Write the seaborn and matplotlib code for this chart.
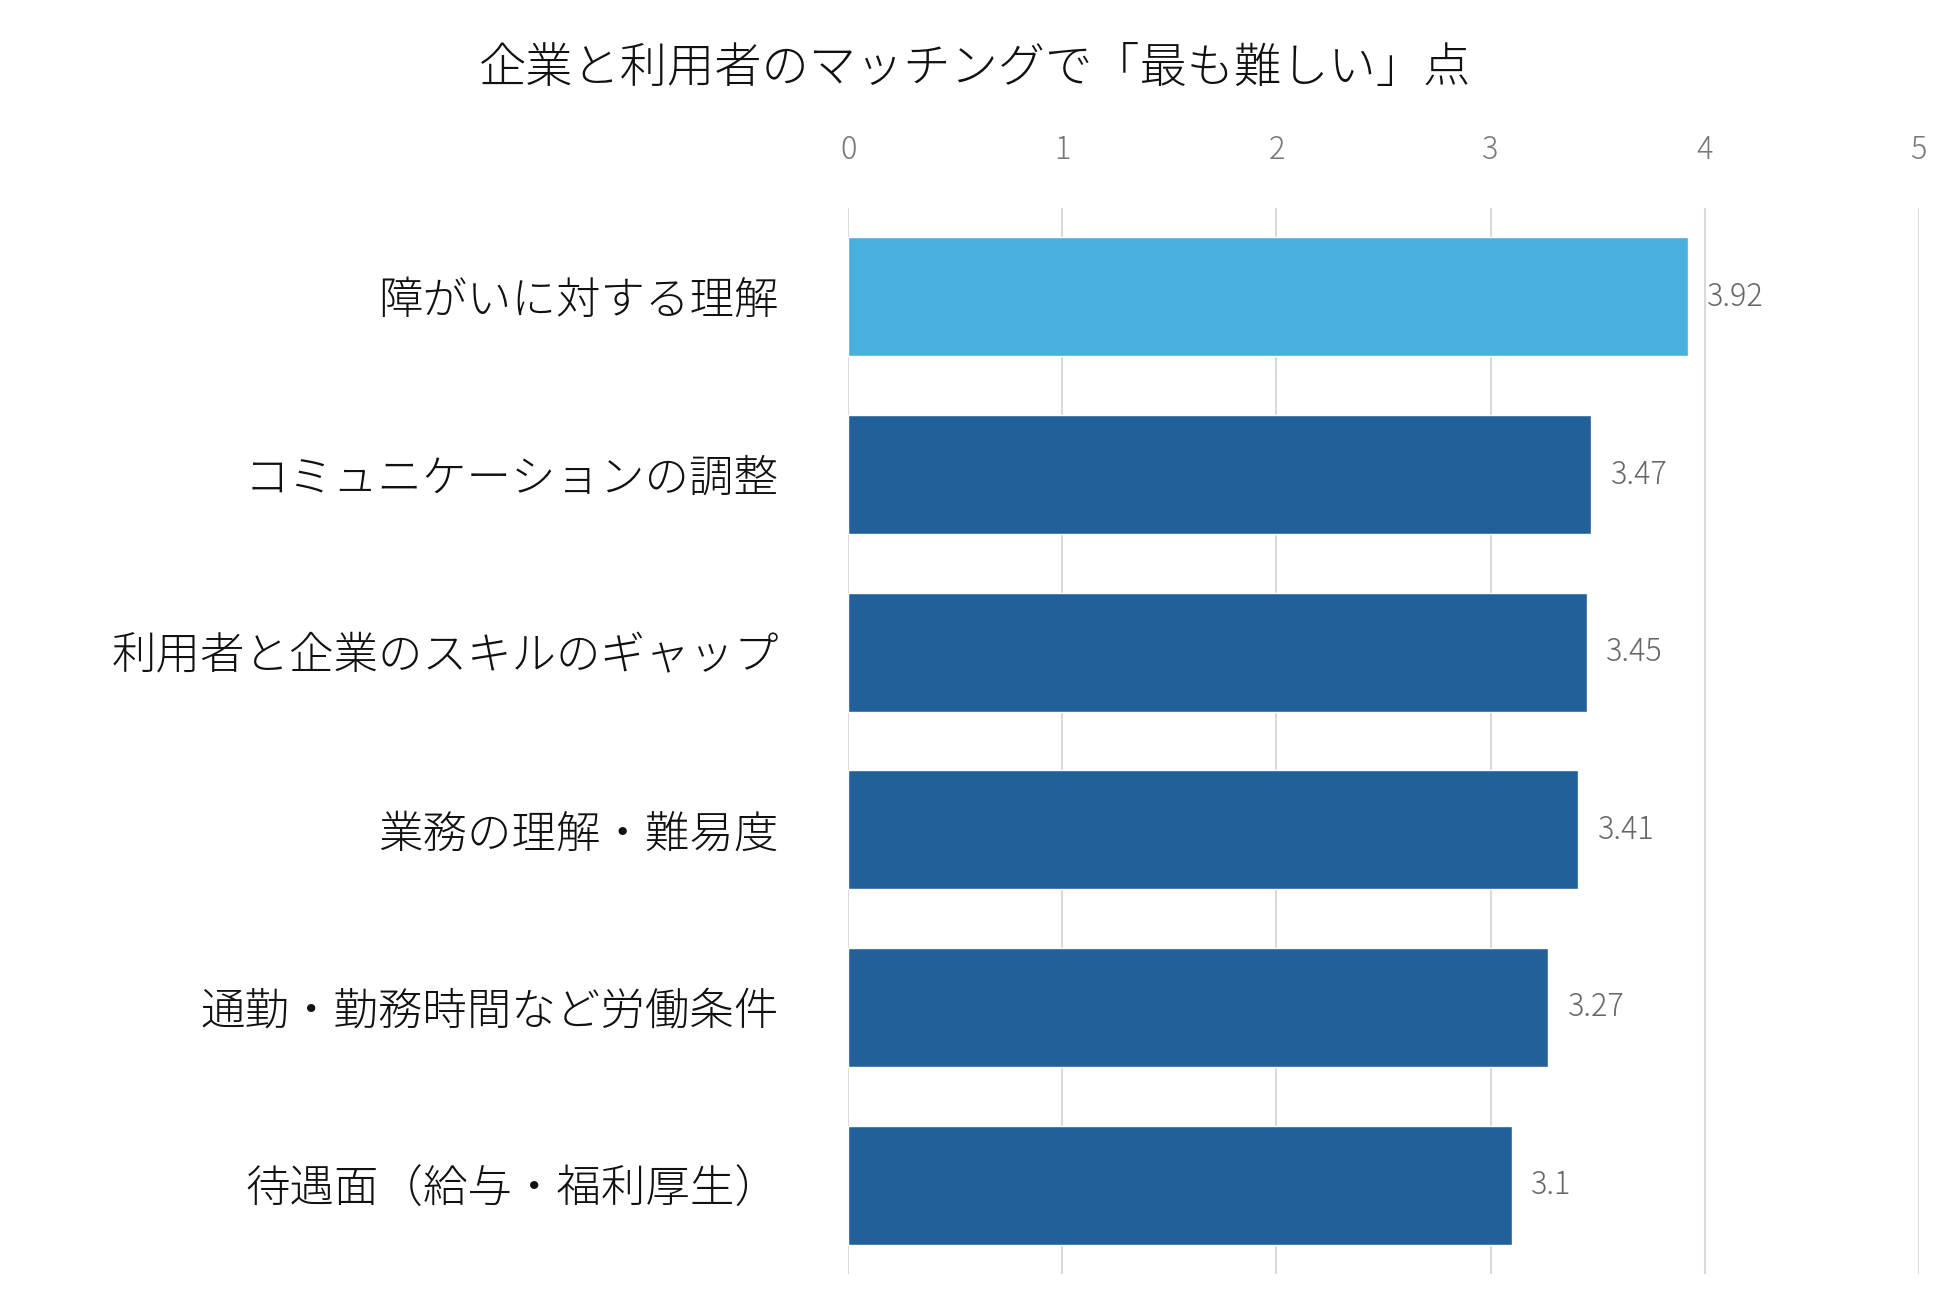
import matplotlib
matplotlib.use("Agg")
import matplotlib.pyplot as plt
import seaborn as sns
import pandas as pd

categories = ["障がいに対する理解", "コミュニケーションの調整", "利用者と企業のスキルのギャップ",
              "業務の理解・難易度", "通勤・勤務時間など労働条件", "待遇面（給与・福利厚生）"]
values = [3.92, 3.47, 3.45, 3.41, 3.27, 3.1]
value_labels = ["3.92", "3.47", "3.45", "3.41", "3.27", "3.1"]
ticks = [0, 1, 2, 3, 4, 5]
title = "企業と利用者のマッチングで「最も難しい」点"

sns.set_theme(style="white")
plt.rcParams['font.family'] = ['Noto Sans CJK JP', 'DejaVu Sans']

df = pd.DataFrame({"cat": categories, "val": values})
colors = ["#48AFDF"] + ["#22609A"] * (len(values) - 1)

fig = plt.figure(figsize=(19.5, 13), dpi=100)
ax = fig.add_axes([0.435, 0.02, 0.549, 0.82])
sns.barplot(data=df, x="val", y="cat", hue="cat", palette=colors, legend=False,
            width=0.67, ax=ax, saturation=1)
ax.set_xlim(0, 5)
ax.set_xticks(ticks)
ax.xaxis.tick_top()
ax.tick_params(axis="x", labelsize=22, colors="#777777", length=0, pad=30)
ax.tick_params(axis="y", labelsize=32, length=0, pad=50)
for t in ax.get_xticklabels():
    t.set_fontweight("light")
for t in ax.get_yticklabels():
    t.set_color("#111111")
    t.set_fontweight("light")
ax.set_xlabel("")
ax.set_ylabel("")
ax.grid(axis="x", color="#D9D9D9", linewidth=1.5)
ax.set_axisbelow(True)
for s in ax.spines.values():
    s.set_visible(False)
for i, (v, lab) in enumerate(zip(values, value_labels)):
    ax.text(v + 0.09, i, lab, va="center", ha="left", fontsize=22, color="#666666", fontweight="light")
fig.text(0.5, 0.947, title, ha="center", va="center", fontsize=34, color="#111111", fontweight="light")
fig.savefig("out.png", dpi=100)
